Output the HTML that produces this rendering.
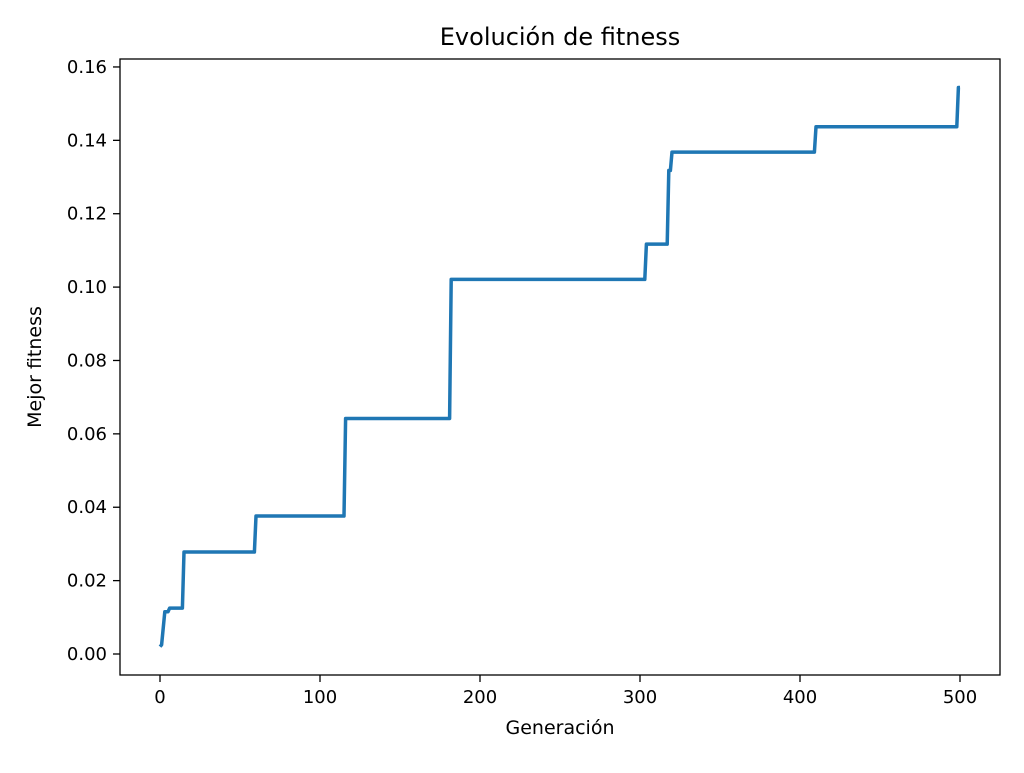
<!DOCTYPE html>
<html><head><meta charset="utf-8">
<style>
body{margin:0;background:#fff;font-family:"Liberation Sans","DejaVu Sans",sans-serif;}
svg text{font-family:"DejaVu Sans","Liberation Sans",sans-serif;fill:#000;}
</style></head>
<body>
<svg id="chart" width="1024" height="768" xmlns="http://www.w3.org/2000/svg">
<rect width="1024" height="768" fill="#fff"/>
<text x="560" y="45" font-size="24" text-anchor="middle">Evolución de fitness</text>
<text x="560" y="734" font-size="19" text-anchor="middle">Generación</text>
<text x="0" y="0" font-size="19" text-anchor="middle" transform="translate(41,367) rotate(-90)">Mejor fitness</text>
<g id="ticks"></g>
<polyline id="series" fill="none" stroke="#1f77b4" stroke-width="3.5" stroke-linejoin="round"/>
<rect x="120" y="59" width="880" height="616" fill="none" stroke="#000" stroke-width="1.3"/>
</svg>
<script>
const generations=[0,1,3,5,6,14,15,59,60,115,116,181,182,303,304,317,318,319,320,409,410,498,499,500];
const fitness=[0.002,0.0025,0.0115,0.0115,0.0125,0.0125,0.0278,0.0278,0.0376,0.0376,0.0642,0.0642,0.1021,0.1021,0.1117,0.1117,0.1318,0.1318,0.1368,0.1368,0.1437,0.1437,0.1544,0.1544];
const xTicks=[0,100,200,300,400,500];
const yTicks=[0,0.02,0.04,0.06,0.08,0.10,0.12,0.14,0.16];
const xs=v=>160+v*1.6;
const ys=v=>654-v*3669;
const ns="http://www.w3.org/2000/svg";
const g=document.getElementById('ticks');
function mk(tag,attrs){const e=document.createElementNS(ns,tag);for(const k in attrs)e.setAttribute(k,attrs[k]);return e;}
xTicks.forEach(t=>{
  const l=mk('line',{x1:xs(t),x2:xs(t),y1:675,y2:682,stroke:'#000','stroke-width':1.3});
  
  
  g.appendChild(l);
  const tx=mk('text',{x:xs(t),y:703,'font-size':18,'text-anchor':'middle'});
  
  
  tx.textContent=t;g.appendChild(tx);
});
yTicks.forEach(t=>{
  const l=mk('line',{x1:113,x2:120,y1:ys(t),y2:ys(t),stroke:'#000','stroke-width':1.3});
  
  
  g.appendChild(l);
  const tx=mk('text',{x:107,y:ys(t)+6,'font-size':18,'text-anchor':'end'});
  
  
  tx.textContent=t.toFixed(2);g.appendChild(tx);
});
document.getElementById('series').setAttribute('points',generations.map((x,i)=>xs(x)+','+ys(fitness[i])).join(' '));
</script>
</body></html>
